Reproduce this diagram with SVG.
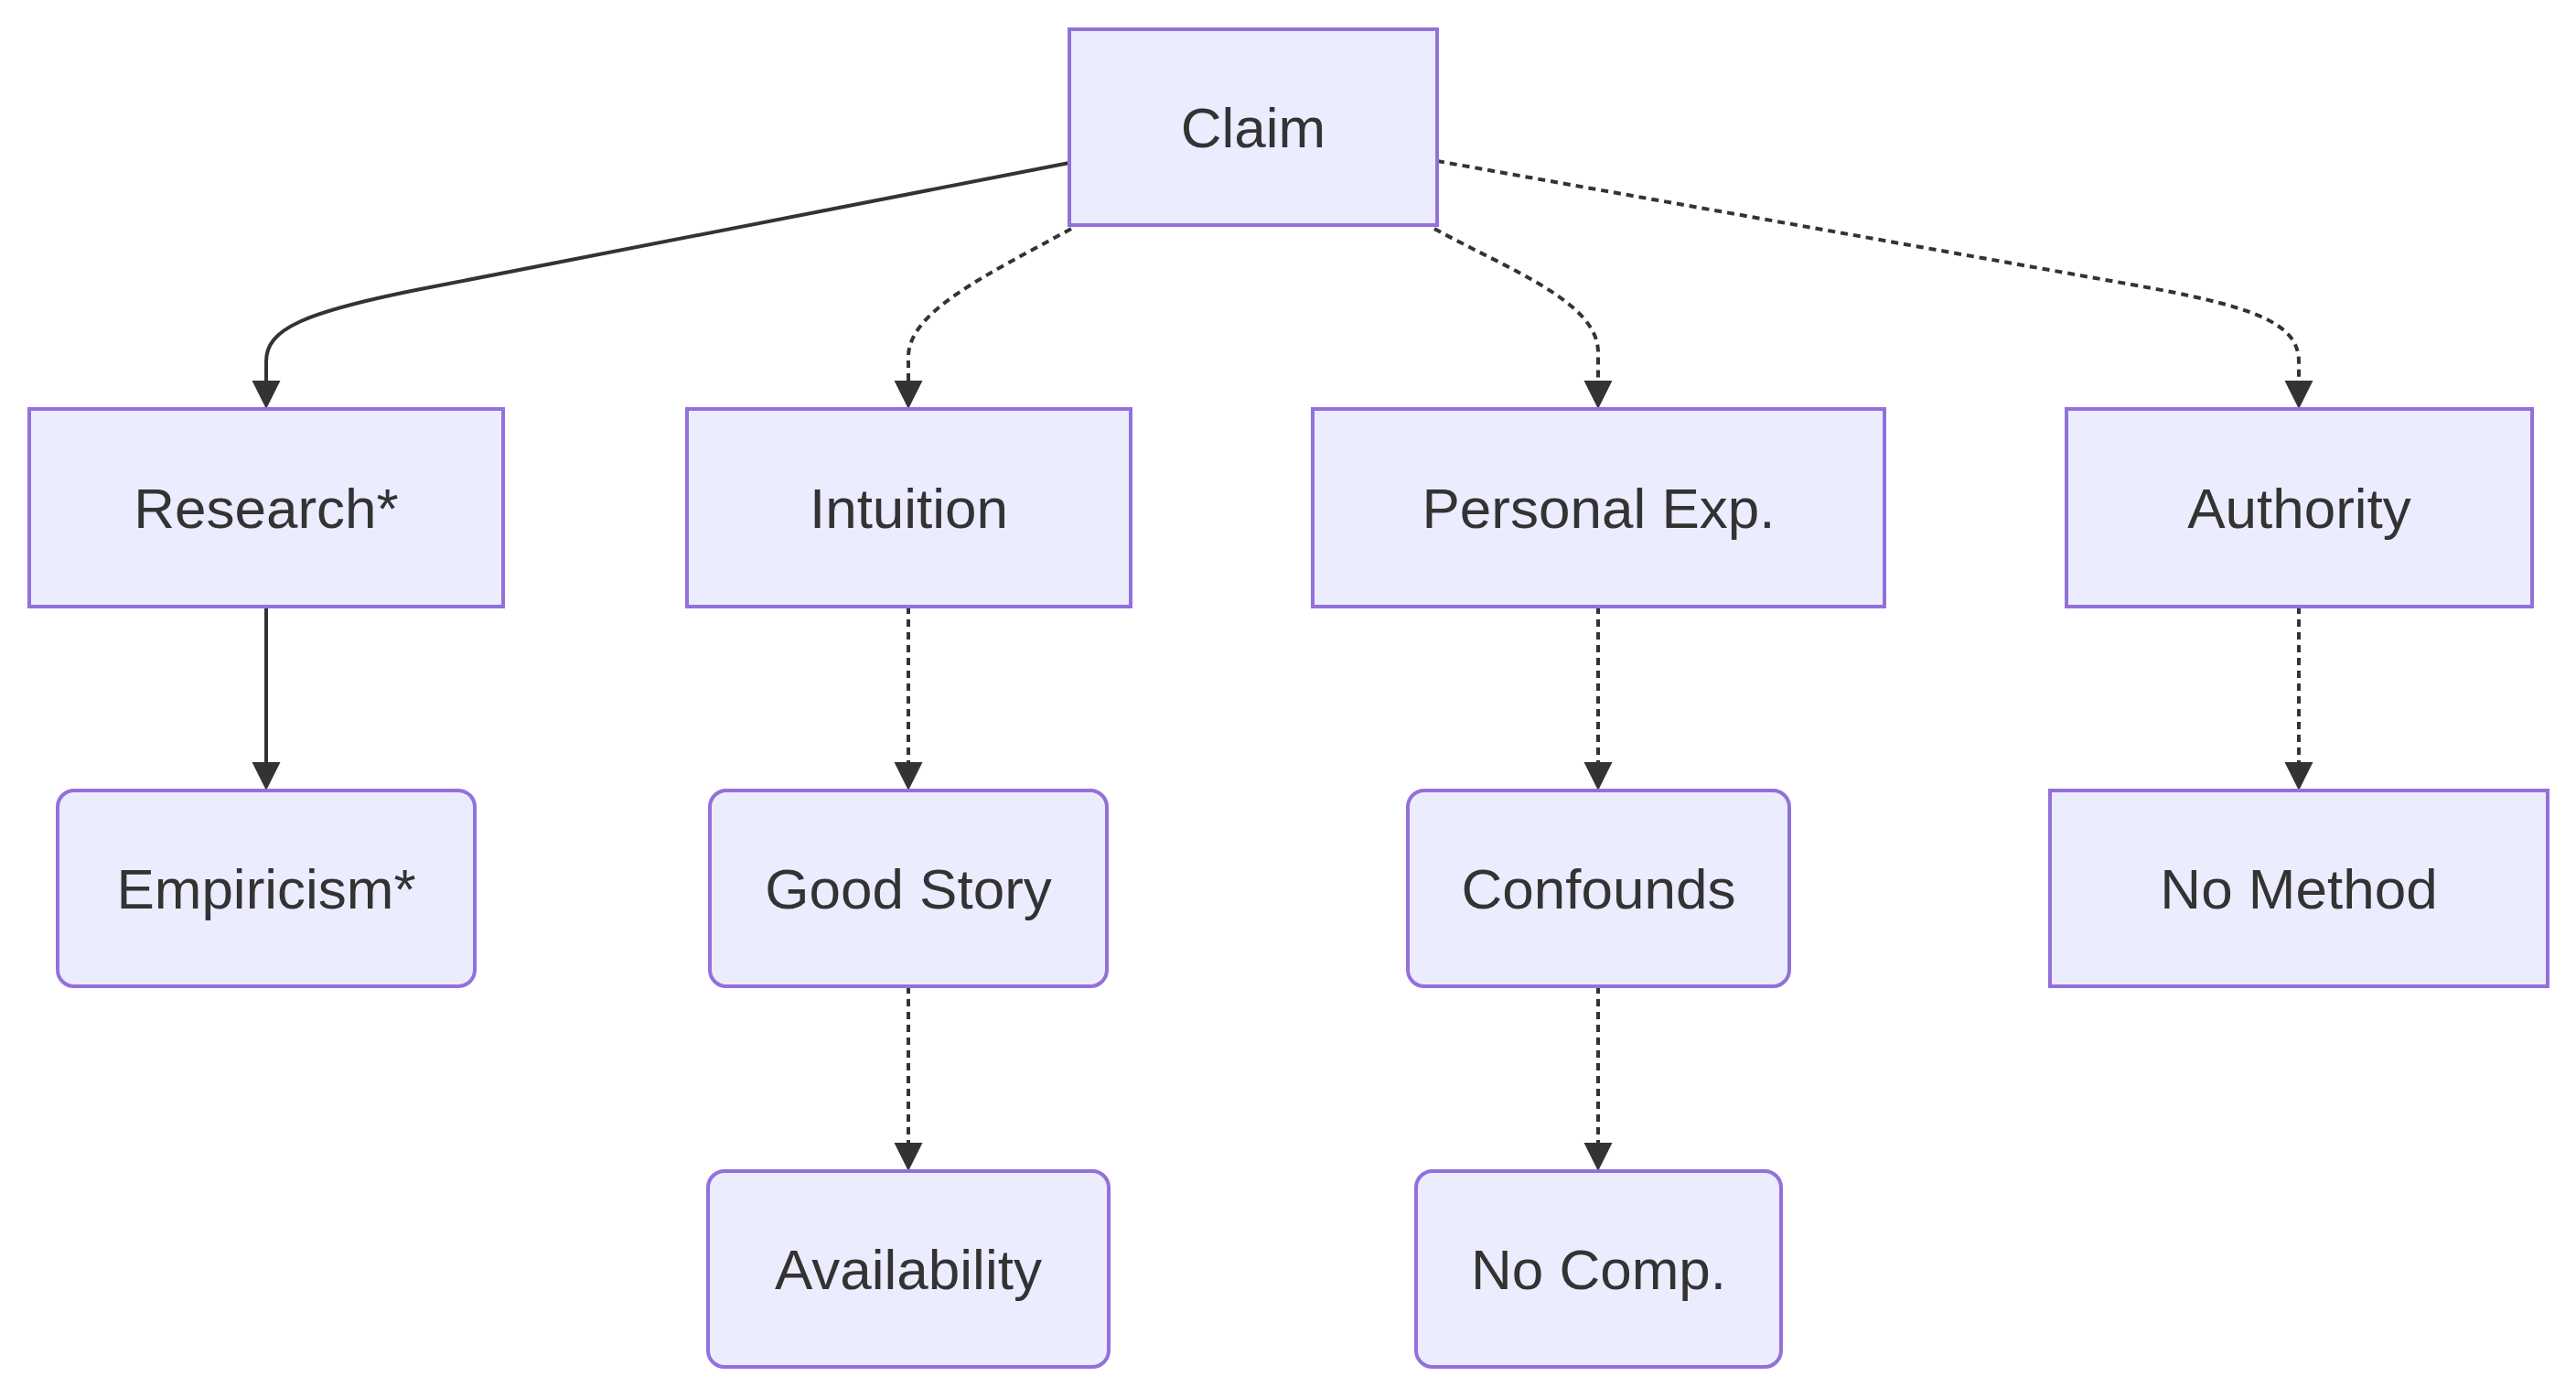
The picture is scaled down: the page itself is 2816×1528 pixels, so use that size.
<svg xmlns="http://www.w3.org/2000/svg" width="2816" height="1528" viewBox="0 0 2816 1528">
<style>
.node rect{fill:#ECECFF;stroke:#9370DB;stroke-width:4}
.node text{font-family:"Liberation Sans",Arial,sans-serif;font-size:62px;fill:#333333;text-anchor:middle}
.edge{fill:none;stroke:#333333;stroke-width:4;marker-end:url(#arrow)}
.dot{stroke-dasharray:8 6}
</style>
<defs>
<marker id="arrow" viewBox="0 0 10 10" refX="0" refY="5" markerUnits="userSpaceOnUse" markerWidth="31" markerHeight="32" orient="auto">
<path d="M0,0 L10,5 L0,10 z" fill="#333333"/>
</marker>
</defs>
<rect width="2816" height="1528" fill="#ffffff"/>
<g id="connectors">
<path class="edge" d="M1169,178 L470,314 C330,341 291,360 291,395 L291,416"/>
<path class="edge dot" d="M1171,250 C1080,300 993,340 993,390 L993,416"/>
<path class="edge dot" d="M1568,250 C1650,295 1747,330 1747,385 L1747,416"/>
<path class="edge dot" d="M1571,176 L2330,311 C2460,334 2513,352 2513,395 L2513,416"/>
<path class="edge" d="M291,663 L291,833"/>
<path class="edge dot" d="M993,663 L993,833"/>
<path class="edge dot" d="M1747,663 L1747,833"/>
<path class="edge dot" d="M2513,663 L2513,833"/>
<path class="edge dot" d="M993,1078 L993,1249"/>
<path class="edge dot" d="M1747,1078 L1747,1249"/>
</g>
<g id="claim" class="node"><rect x="1169" y="32" width="402" height="214"/><text x="1370" y="161">Claim</text></g>
<g id="research" class="node"><rect x="32" y="447" width="518" height="216"/><text x="291" y="577">Research*</text></g>
<g id="intuition" class="node"><rect x="751" y="447" width="485" height="216"/><text x="993.5" y="577">Intuition</text></g>
<g id="personal" class="node"><rect x="1435" y="447" width="625" height="216"/><text x="1747.5" y="577">Personal Exp.</text></g>
<g id="authority" class="node"><rect x="2259" y="447" width="509" height="216"/><text x="2513.5" y="577">Authority</text></g>
<g id="empiricism" class="node"><rect x="63" y="864" width="456" height="214" rx="18" ry="18"/><text x="291" y="993">Empiricism*</text></g>
<g id="goodstory" class="node"><rect x="776" y="864" width="434" height="214" rx="18" ry="18"/><text x="993" y="993">Good Story</text></g>
<g id="confounds" class="node"><rect x="1539" y="864" width="417" height="214" rx="18" ry="18"/><text x="1747.5" y="993">Confounds</text></g>
<g id="nomethod" class="node"><rect x="2241" y="864" width="544" height="214"/><text x="2513" y="993">No Method</text></g>
<g id="availability" class="node"><rect x="774" y="1280" width="438" height="214" rx="18" ry="18"/><text x="993" y="1409">Availability</text></g>
<g id="nocomp" class="node"><rect x="1548" y="1280" width="399" height="214" rx="18" ry="18"/><text x="1747.5" y="1409">No Comp.</text></g>
</svg>
